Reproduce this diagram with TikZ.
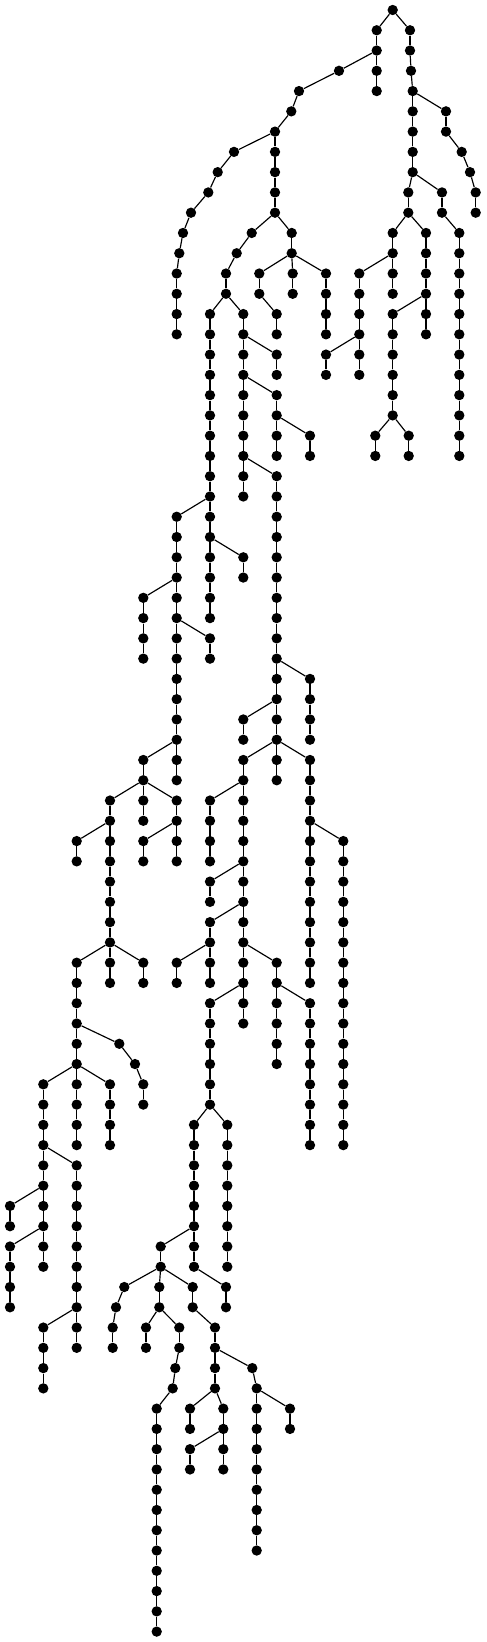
\documentclass[tikz,border=0pt]{standalone}
\begin{document}
\begin{tikzpicture}[x=0.3mm, y=-6.081mm]
    \tikzset{VertexStyle/.style = {circle,
        fill  = black,
        inner sep = 0pt,
        minimum size = 3.1mm},
      EdgeStyle/.style = {line width=1pt}}
    \useasboundingbox (0,-0.4933) rectangle (486,80.513);
    \node[VertexStyle] (c1-0) at (392.7,0) {};
    % chain/x/first level/last level/parent
    \foreach \c/\x/\a/\b/\p in {
      2/376.7/1/4/1-0, 3/410/1/2/1-0, 4/411/3/3/3-2, 5/412.7/4/8/4-3,
      6/339/3/3/2-2, 7/299/4/4/6-3, 8/291.3/5/5/7-4, 9/275/6/10/8-5,
      10/234/7/7/9-6, 11/217.7/8/8/10-7, 12/208.3/9/9/11-8, 13/191/10/10/12-9,
      14/183/11/11/13-10, 15/179.3/12/12/14-11, 16/176.7/13/16/15-12,
      17/251.7/11/11/9-10, 18/236.7/12/12/17-11, 19/226/13/14/18-12,
      20/291.7/11/12/9-10, 21/259.3/13/14/20-12, 22/292.7/13/14/20-12,
      23/326/13/16/20-12, 24/276.7/15/16/21-14,
      25/446/5/6/5-4, 26/461.7/7/7/25-6, 27/470/8/8/26-7, 28/475.7/9/10/27-8,
      29/408.3/9/10/5-8, 30/442/9/10/5-8, 31/392.7/11/14/29-10,
      32/426/11/16/29-10, 33/459.3/11/22/30-10, 34/359.3/13/18/31-12,
      35/326/17/18/34-16, 36/392.7/15/20/32-14, 37/375.3/21/22/36-20,
      38/408.7/21/22/36-20,
      39/210/15/30/19-14, 40/243.3/15/24/19-14, 41/276.7/17/18/40-16,
      42/276.7/19/22/40-18, 43/310/21/22/42-20, 44/276.7/23/38/40-22,
      45/176.7/25/38/39-24, 46/243.3/27/28/39-26, 47/143.3/29/32/45-28,
      48/210/31/32/45-30, 49/310/33/36/44-32, 50/243.3/35/36/44-34,
      51/243.3/37/50/44-36, 52/310/37/48/44-36, 53/143.3/37/40/45-36,
      54/110/39/48/53-38, 55/176.7/39/42/53-38, 56/76.7/41/42/54-40,
      57/143.3/41/42/55-40, 58/210/39/42/51-38, 59/210/43/44/51-42,
      60/210/45/48/51-44, 61/176.7/47/48/60-46, 62/276.7/47/52/51-46,
      63/210/49/54/51-48, 64/343.3/41/56/52-40, 65/310/49/56/62-48,
      66/76.7/47/52/54-46, 67/143.3/47/48/54-46, 68/119.3/51/51/66-50,
      69/135/52/52/68-51, 70/143.3/53/54/69-52, 71/43.3/53/62/66-52,
      72/76.7/53/56/66-52, 73/110/53/56/66-52, 74/76.7/57/66/71-56,
      75/10/59/60/71-58, 76/10/61/64/71-60, 77/43.3/65/68/74-64,
      78/194/55/62/63-54, 79/227.3/55/62/63-54, 80/160.7/61/62/78-60,
      81/226/63/64/78-62, 82/124.3/63/63/80-62, 83/116/64/64/82-63,
      84/112.7/65/66/83-64, 85/159.3/63/64/80-62, 86/192.7/63/64/80-62,
      87/146/65/66/85-64, 88/179.3/65/66/85-64, 89/175.3/67/67/88-66,
      90/172.7/68/68/89-67, 91/156.7/69/80/90-68, 92/215/65/68/86-64,
      93/252.3/67/67/92-66, 94/256.7/68/76/93-67, 95/290/69/70/94-68,
      96/190/69/70/92-68, 97/223.3/69/72/92-68, 98/190/71/72/97-70}{
      \foreach \l in {\a,...,\b}{
        \node[VertexStyle] (c\c-\l) at (\x,\l) {};
        \ifnum\l=\a
          \draw[EdgeStyle] (c\p) -- (c\c-\l);
        \else
          \pgfmathtruncatemacro{\prevlev}{\l-1}
          \draw[EdgeStyle] (c\c-\prevlev) -- (c\c-\l);
        \fi
      }
    }
\end{tikzpicture}
\end{document}
